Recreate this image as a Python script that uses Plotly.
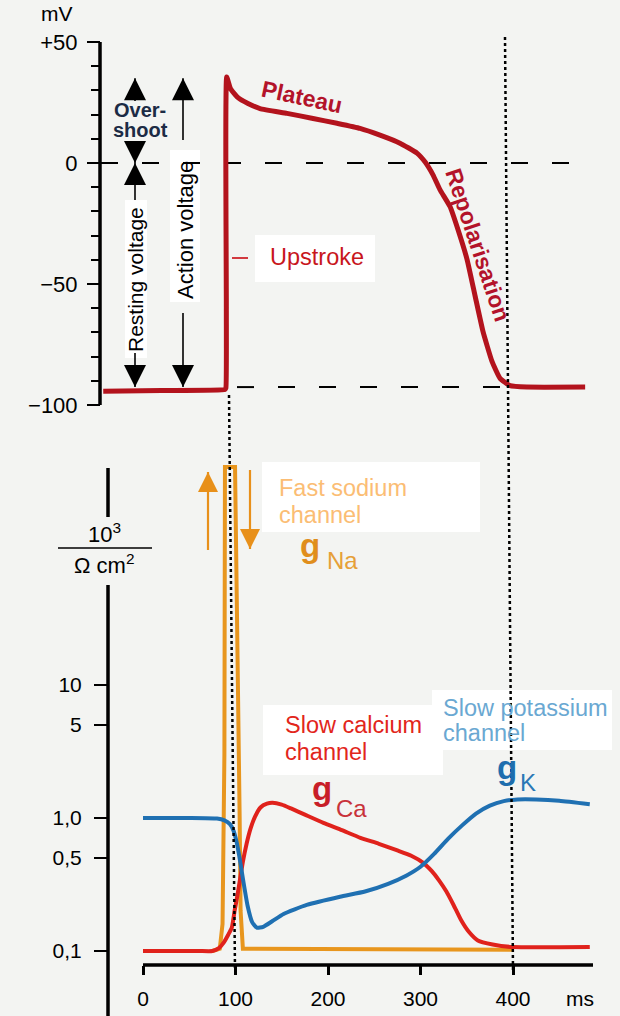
import plotly.graph_objects as go

# ---------------- data ----------------
# membrane potential of a ventricular myocyte (ms, mV)
ap_t = [-43, 20, 88.5, 89.6, 90.1, 90.5, 94.6, 102.7, 113.5, 126.5, 155.7, 183.8, 209.7,
        234.6, 256.2, 277.8, 296.2, 305, 313.5, 321, 331.9, 340.5, 350.3, 359, 367.6,
        377.3, 386, 396.8, 415, 478]
ap_mv = [-94.3, -94, -93.6, -93.0, -60, 35.5, 30.7, 27.0, 24.6, 22.5, 20.5, 18.4, 16.4,
         14.3, 11.5, 8.2, 4.1, 0.4, -4.9, -11, -18, -27.5, -39.8, -54.9, -69.7,
         -82, -89, -92, -92.6, -92.6]

# conductances (10^3 / Ohm cm^2)
na_t = [75, 83, 86, 88, 88.6, 99.5, 104.5, 105.5, 108, 400]
g_na = [0.1, 0.104, 0.16, 3, 435, 435, 1.0, 0.2, 0.104, 0.102]

ca_t = [0, 60, 75, 82, 87, 92, 96, 99, 102, 105, 108, 112, 116, 121, 127, 134, 140, 150,
        160, 175, 195, 215, 235, 255, 275, 290, 303, 312, 320, 328, 336, 344, 352, 362,
        378, 400, 483]
g_ca = [0.1, 0.1, 0.1, 0.105, 0.115, 0.132, 0.15, 0.2, 0.26, 0.35, 0.47, 0.64, 0.82, 1.02,
        1.2, 1.28, 1.3, 1.26, 1.18, 1.06, 0.92, 0.81, 0.71, 0.64, 0.57, 0.52, 0.46, 0.4,
        0.34, 0.28, 0.22, 0.17, 0.14, 0.12, 0.112, 0.107, 0.107]

k_t = [0, 50, 80, 88, 94, 98, 101, 104, 108, 113, 118, 123, 130, 140, 152, 177, 213, 240,
       265, 285, 300, 315, 330, 345, 360, 375, 390, 405, 425, 450, 483]
g_k = [1.0, 1.0, 0.99, 0.96, 0.9, 0.8, 0.67, 0.52, 0.35, 0.22, 0.165, 0.15, 0.152, 0.168,
       0.19, 0.222, 0.256, 0.28, 0.32, 0.37, 0.43, 0.54, 0.70, 0.88, 1.08, 1.24, 1.34,
       1.38, 1.38, 1.35, 1.27]

mv_ticks = [-100, -50, 0, 50]
mv_labels = ["\u2212100", "\u221250", "0", "+50"]
g_ticks = [0.1, 0.5, 1, 5, 10]
g_labels = ["0,1", "0,5", "1,0", "5", "10"]
ms_ticks = [0, 100, 200, 300, 400]

overshoot_mv = 35.0
resting_mv = -92.6

# ---------------- geometry helpers ----------------
W, H = 620, 1016


def px(x):
    return x / W


def py(y):
    return 1 - y / H


MS_PX = 0.925        # pixels per ms
X0_PX = 143          # pixel of t = 0
MV_PX = 2.42         # pixels per mV
ZERO_PX = 163        # pixel of 0 mV
DEC_PX = 133         # pixels per decade of conductance
ONE_PX = 818         # pixel of g = 1

top_dom = (420, 30)
bot_dom = (965, 460)

FONT = "Liberation Sans, Arial, sans-serif"
AP_RED = "#b3131d"
CA_RED = "#e0221c"
K_BLUE = "#1f70b2"
NA_ORANGE = "#e8961e"
ARROW_ORANGE = "#e8901a"


def t_at(xpix):
    return (xpix - X0_PX) / MS_PX


def mv_at(ypix):
    return (ZERO_PX - ypix) / MV_PX


def g_at(ypix):
    return 10 ** ((ONE_PX - ypix) / DEC_PX)


fig = go.Figure()

fig.add_trace(go.Scatter(x=na_t, y=g_na, yaxis="y2", mode="lines",
                         line=dict(color=NA_ORANGE, width=4), hoverinfo="skip"))
fig.add_trace(go.Scatter(x=ca_t, y=g_ca, yaxis="y2", mode="lines",
                         line=dict(color=CA_RED, width=4, shape="spline", smoothing=0.5),
                         hoverinfo="skip"))
fig.add_trace(go.Scatter(x=k_t, y=g_k, yaxis="y2", mode="lines",
                         line=dict(color=K_BLUE, width=4, shape="spline", smoothing=0.5),
                         hoverinfo="skip"))
fig.add_trace(go.Scatter(x=ap_t, y=ap_mv, yaxis="y", mode="lines",
                         line=dict(color=AP_RED, width=5, shape="spline", smoothing=0.4),
                         hoverinfo="skip"))


def arrow(xpix, tip, tail, yaxis="y", color="black", width=1.6, head=22):
    """Vertical arrow: a shaft from tail to tip plus a filled head at the tip."""
    t = t_at(xpix)
    up = tip > tail
    fig.add_trace(go.Scatter(x=[t, t], y=[tail, tip], yaxis=yaxis, mode="lines",
                             line=dict(color=color, width=width), hoverinfo="skip"))
    fig.add_trace(go.Scatter(x=[t], y=[tip], yaxis=yaxis, mode="markers",
                             marker=dict(symbol="arrow-up" if up else "arrow-down",
                                         size=head, color=color, line=dict(width=0)),
                             hoverinfo="skip"))


# overshoot, resting and action voltage spans
arrow(135, overshoot_mv, mv_at(101))
arrow(135, 0, mv_at(142))
arrow(135, 0, mv_at(200))
arrow(135, resting_mv, mv_at(353))
arrow(183, overshoot_mv, mv_at(140))
arrow(183, resting_mv, mv_at(313))
# sodium channel opening / closing
arrow(208, g_at(472), g_at(550), yaxis="y2", color=ARROW_ORANGE, width=2.2, head=20)
arrow(250, g_at(549), g_at(470), yaxis="y2", color=ARROW_ORANGE, width=2.2, head=20)

shapes = []


def white_box(x0, y0, x1, y1):
    shapes.append(dict(type="rect", xref="paper", yref="paper", layer="below",
                       x0=px(x0), x1=px(x1), y0=py(y1), y1=py(y0),
                       fillcolor="white", line=dict(width=0)))


white_box(170, 150, 200, 302)
white_box(125, 200, 147, 358)
white_box(255, 235, 375, 282)
white_box(262, 462, 480, 532)
white_box(263, 705, 443, 775)
white_box(432, 690, 612, 750)

# axis lines
shapes.append(dict(type="line", xref="paper", yref="y", x0=px(100), x1=px(100),
                   y0=-100, y1=50, line=dict(color="black", width=3.5)))
shapes.append(dict(type="line", xref="paper", yref="paper", x0=px(108), x1=px(108),
                   y0=py(517), y1=py(468), line=dict(color="black", width=3.5)))
shapes.append(dict(type="line", xref="paper", yref="paper", x0=px(108), x1=px(108),
                   y0=0, y1=py(585), line=dict(color="black", width=3.5)))
shapes.append(dict(type="line", xref="x", yref="paper", x0=0, x1=t_at(593),
                   y0=py(965), y1=py(965), line=dict(color="black", width=3.5)))
# fraction bar of the unit label
shapes.append(dict(type="line", xref="paper", yref="paper", x0=px(58), x1=px(152),
                   y0=py(548), y1=py(548), line=dict(color="black", width=1.5)))
# reference levels
shapes.append(dict(type="line", xref="x", yref="y", x0=t_at(101), x1=t_at(585),
                   y0=0, y1=0, layer="below",
                   line=dict(color="black", width=2, dash="17px,24px")))
shapes.append(dict(type="line", xref="x", yref="y", x0=t_at(237), x1=t_at(518),
                   y0=resting_mv, y1=resting_mv, layer="below",
                   line=dict(color="black", width=2, dash="17px,24px")))
# time markers
shapes.append(dict(type="line", xref="x", yref="paper", x0=t_at(229), x1=t_at(235),
                   y0=py(395), y1=py(970),
                   line=dict(color="black", width=2.5, dash="3px,3px")))
shapes.append(dict(type="line", xref="x", yref="paper", x0=t_at(505), x1=t_at(513),
                   y0=py(37), y1=py(970),
                   line=dict(color="black", width=2.5, dash="3px,3px")))
# upstroke pointer
shapes.append(dict(type="line", xref="paper", yref="paper", x0=px(232), x1=px(248),
                   y0=py(258), y1=py(258), line=dict(color="#d23a40", width=2)))

ann = []


def text(x, y, s, size=23, color="black", bold=False, angle=0, xanchor="center"):
    if bold:
        s = "<b>" + s + "</b>"
    ann.append(dict(xref="paper", yref="paper", x=px(x), y=py(y), text=s,
                    showarrow=False, textangle=angle, xanchor=xanchor, yanchor="middle",
                    font=dict(family=FONT, size=size, color=color)))


text(57, 14, "mV", 21)
text(140, 110, "Over-", 20, "#1c2b45", bold=True)
text(140, 130, "shoot", 20, "#1c2b45", bold=True)
text(136, 280, "Resting voltage", 21, angle=-90)
text(185, 230, "Action voltage", 22, angle=-90)
text(268, 257, "Upstroke", 23.5, "#c8161d", xanchor="left")
text(302, 97, "Plateau", 23, "#b3132a", bold=True, angle=12)
text(478, 245, "Repolarisation", 23, "#b3132a", bold=True, angle=71.5)

text(277, 488, "Fast sodium", 23.5, "#fbbd74", xanchor="left")
text(277, 515, "channel", 23.5, "#fbbd74", xanchor="left")
text(310, 545, "g", 33, "#e08e1c", bold=True)
text(342, 560, "Na", 24, "#e6a038")
text(283, 725, "Slow calcium", 23.5, "#e2261b", xanchor="left")
text(283, 752, "channel", 23.5, "#e2261b", xanchor="left")
text(322, 788, "g", 33, "#c81e28", bold=True)
text(351, 808, "Ca", 24, "#c8323a")
text(441, 708, "Slow potassium", 23.5, "#6aa8d2", xanchor="left")
text(441, 733, "channel", 23.5, "#6aa8d2", xanchor="left")
text(507, 767, "g", 33, "#1e6eae", bold=True)
text(528, 782, "K", 24, "#2a78b6")

text(104, 533, "10<sup>3</sup>", 22)
text(104, 564, "\u03a9 cm<sup>2</sup>", 22)
text(580, 998, "ms", 21)

fig.update_layout(
    width=W, height=H, margin=dict(l=0, r=0, t=0, b=0),
    paper_bgcolor="#f3f4f2", plot_bgcolor="rgba(0,0,0,0)",
    showlegend=False, hovermode=False,
    font=dict(family=FONT, size=21, color="black"),
    xaxis=dict(domain=[0, 1], range=[t_at(0), t_at(W)], anchor="y2",
               showgrid=False, zeroline=False, showline=False,
               tickmode="array", tickvals=ms_ticks, ticks="outside", ticklen=9,
               tickwidth=2.5, tickcolor="black", ticklabelstandoff=6,
               tickfont=dict(family=FONT, size=21, color="black")),
    yaxis=dict(domain=[py(top_dom[0]), py(top_dom[1])],
               range=[mv_at(top_dom[0]), mv_at(top_dom[1])],
               anchor="free", position=px(100), showgrid=False, zeroline=False,
               showline=False, tickmode="array", tickvals=mv_ticks, ticktext=mv_labels,
               ticks="outside", ticklen=13, tickwidth=2, tickcolor="black",
               ticklabelstandoff=5,
               minor=dict(dtick=10, tick0=0, ticks="outside", ticklen=9, tickwidth=2,
                          tickcolor="black", showgrid=False),
               tickfont=dict(family=FONT, size=22, color="black")),
    yaxis2=dict(domain=[py(bot_dom[0]), py(bot_dom[1])], type="log",
                range=[(ONE_PX - bot_dom[0]) / DEC_PX, (ONE_PX - bot_dom[1]) / DEC_PX],
                anchor="free", position=px(108), showgrid=False, zeroline=False,
                showline=False, tickmode="array", tickvals=g_ticks, ticktext=g_labels,
                ticks="outside", ticklen=14, tickwidth=2, tickcolor="black",
                ticklabelstandoff=8,
                tickfont=dict(family=FONT, size=21, color="black")),
    shapes=shapes, annotations=ann,
)

fig.write_html("out.html")
